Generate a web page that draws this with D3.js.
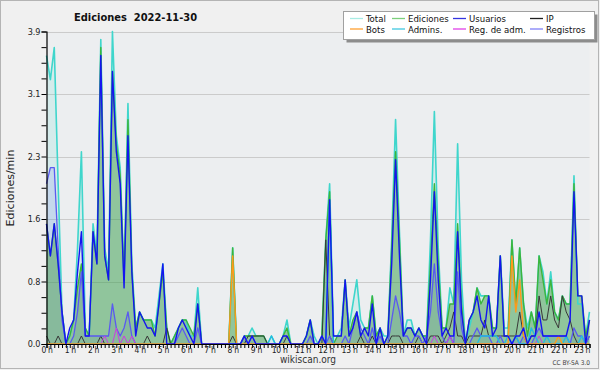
<!DOCTYPE html>
<html>
<head>
<meta charset="utf-8">
<script src="https://cdn.jsdelivr.net/npm/d3@7"></script>
<style>
  body { margin: 0; background: #f0f0f0; }
  svg { display: block; font-family: "DejaVu Sans Condensed", "DejaVu Sans", sans-serif; }
</style>
</head>
<body>
<div id="chart"></div>
<script>
// edits per minute, one value every 10 minutes (0:00 -> 23:20)
let total = [
  3.6, 3.3, 3.7, 2.0, 0.4, 0.0,
  0.1, 0.3, 1.2, 2.4, 0.2, 0.1,
  1.5, 1.1, 3.8, 1.2, 0.9, 3.9,
  2.6, 2.2, 0.8, 3.0, 1.0, 0.2,
  0.4, 0.3, 0.3, 0.3, 0.2, 0.6,
  1.0, 0.2, 0.0, 0.1, 0.2, 0.3,
  0.3, 0.1, 0.1, 0.7, 0.0, 0.0,
  0.0, 0.0, 0.0, 0.0, 0.0, 0.0,
  1.2, 0.0, 0.0, 0.1, 0.1, 0.2,
  0.1, 0.1, 0.1, 0.0, 0.1, 0.0,
  0.0, 0.1, 0.3, 0.0, 0.0, 0.0,
  0.0, 0.1, 0.3, 0.1, 0.0, 0.1,
  1.3, 2.0, 0.1, 0.1, 0.2, 0.8,
  0.2, 0.5, 0.8, 0.3, 0.2, 0.2,
  0.6, 0.1, 0.2, 0.1, 0.1, 1.3,
  2.8, 1.4, 0.1, 0.3, 0.3, 0.1,
  0.2, 0.1, 0.1, 1.3, 2.9, 1.2,
  0.2, 0.2, 0.7, 0.5, 2.5, 0.8,
  0.0, 0.2, 0.4, 0.7, 0.6, 0.6,
  0.6, 0.2, 0.2, 1.1, 0.2, 0.2,
  1.3, 0.5, 1.2, 0.5, 0.2, 0.4,
  0.2, 1.1, 0.9, 0.5, 0.9, 0.4,
  0.3, 0.6, 0.5, 0.5, 2.1, 0.5,
  0.5, 0.1, 0.4
];

let edits = [
  1.5, 1.1, 1.5, 1.0, 0.4, 0.0,
  0.1, 0.3, 0.7, 1.0, 0.2, 0.1,
  1.4, 1.0, 3.7, 1.1, 0.8, 3.4,
  2.5, 2.1, 0.8, 2.8, 0.9, 0.2,
  0.4, 0.3, 0.3, 0.3, 0.1, 0.5,
  0.9, 0.2, 0.0, 0.1, 0.2, 0.3,
  0.3, 0.2, 0.1, 0.5, 0.0, 0.0,
  0.0, 0.0, 0.0, 0.0, 0.0, 0.0,
  1.2, 0.0, 0.0, 0.1, 0.1, 0.1,
  0.1, 0.1, 0.1, 0.0, 0.0, 0.0,
  0.0, 0.1, 0.2, 0.0, 0.0, 0.0,
  0.0, 0.1, 0.3, 0.0, 0.0, 0.1,
  1.3, 1.9, 0.0, 0.1, 0.1, 0.8,
  0.1, 0.3, 0.4, 0.1, 0.2, 0.2,
  0.6, 0.1, 0.2, 0.0, 0.1, 1.2,
  2.4, 1.3, 0.1, 0.2, 0.2, 0.1,
  0.2, 0.1, 0.1, 1.0, 2.0, 1.0,
  0.2, 0.2, 0.5, 0.5, 1.5, 0.5,
  0.0, 0.3, 0.4, 0.7, 0.5, 0.6,
  0.6, 0.2, 0.2, 1.1, 0.1, 0.1,
  1.3, 0.5, 1.2, 0.5, 0.1, 0.4,
  0.2, 1.1, 0.8, 0.5, 0.8, 0.4,
  0.3, 0.6, 0.5, 0.5, 2.0, 0.6,
  0.6, 0.1, 0.3
];

let users = [
  1.5, 1.1, 1.5, 1.0, 0.4, 0.0,
  0.2, 0.3, 0.9, 1.4, 0.1, 0.1,
  1.4, 1.0, 3.6, 1.1, 0.8, 3.4,
  2.4, 2.0, 0.7, 2.6, 0.9, 0.1,
  0.4, 0.3, 0.2, 0.2, 0.1, 0.5,
  1.0, 0.0, 0.0, 0.0, 0.2, 0.3,
  0.2, 0.1, 0.0, 0.5, 0.0, 0.0,
  0.0, 0.0, 0.0, 0.0, 0.0, 0.0,
  0.0, 0.0, 0.0, 0.1, 0.0, 0.1,
  0.0, 0.0, 0.0, 0.0, 0.0, 0.0,
  0.0, 0.1, 0.1, 0.0, 0.0, 0.0,
  0.0, 0.1, 0.3, 0.0, 0.0, 0.1,
  0.0, 1.8, 0.1, 0.1, 0.1, 0.8,
  0.1, 0.2, 0.4, 0.1, 0.2, 0.1,
  0.5, 0.0, 0.2, 0.0, 0.1, 1.0,
  2.3, 1.1, 0.1, 0.2, 0.2, 0.1,
  0.2, 0.1, 0.0, 0.8, 1.9, 0.8,
  0.1, 0.2, 0.1, 0.1, 1.4, 0.4,
  0.0, 0.3, 0.4, 0.6, 0.3, 0.2,
  0.6, 0.1, 0.2, 1.1, 0.1, 0.1,
  0.0, 0.1, 0.1, 0.2, 0.0, 0.1,
  0.1, 0.4, 0.1, 0.1, 0.1, 0.1,
  0.1, 0.1, 0.1, 0.3, 1.9, 0.6,
  0.6, 0.0, 0.3
];

let ip = [
  0.1, 0.0, 0.0, 0.1, 0.0, 0.0,
  0.0, 0.0, 0.0, 0.1, 0.0, 0.0,
  0.0, 0.0, 0.1, 0.0, 0.0, 0.0,
  0.0, 0.0, 0.0, 0.0, 0.0, 0.0,
  0.0, 0.0, 0.1, 0.0, 0.0, 0.0,
  0.0, 0.2, 0.0, 0.0, 0.0, 0.0,
  0.0, 0.0, 0.0, 0.0, 0.0, 0.0,
  0.0, 0.0, 0.0, 0.0, 0.0, 0.0,
  0.1, 0.0, 0.0, 0.0, 0.1, 0.1,
  0.1, 0.1, 0.1, 0.0, 0.0, 0.0,
  0.0, 0.0, 0.1, 0.0, 0.0, 0.0,
  0.0, 0.0, 0.0, 0.0, 0.0, 0.0,
  1.3, 0.1, 0.0, 0.0, 0.0, 0.0,
  0.0, 0.0, 0.0, 0.1, 0.0, 0.0,
  0.1, 0.0, 0.0, 0.0, 0.0, 0.1,
  0.1, 0.1, 0.0, 0.0, 0.0, 0.0,
  0.1, 0.0, 0.0, 0.1, 0.1, 0.1,
  0.0, 0.1, 0.2, 0.4, 0.1, 0.1,
  0.0, 0.1, 0.1, 0.1, 0.1, 0.3,
  0.1, 0.1, 0.1, 0.1, 0.1, 0.1,
  0.1, 0.1, 0.4, 0.1, 0.0, 0.1,
  0.1, 0.6, 0.3, 0.3, 0.6, 0.3,
  0.2, 0.6, 0.4, 0.3, 0.1, 0.0,
  0.0, 0.0, 0.1
];

let bots = [
  0, 0, 0, 0, 0, 0,  0, 0, 0, 0, 0, 0,  0, 0, 0, 0, 0, 0,  0, 0, 0, 0, 0, 0,
  0, 0, 0, 0, 0, 0,  0, 0, 0, 0, 0, 0,  0, 0, 0, 0, 0, 0,  0, 0, 0, 0, 0, 0,
  1.1, 0, 0, 0, 0, 0,  0, 0, 0, 0, 0, 0,  0, 0, 0, 0, 0, 0,  0, 0, 0, 0, 0, 0,
  0, 0, 0, 0, 0, 0,  0, 0, 0, 0, 0, 0,  0, 0, 0, 0, 0, 0,  0, 0, 0, 0, 0, 0,
  0, 0, 0, 0, 0, 0,  0, 0, 0, 0, 0, 0,  0, 0, 0, 0, 0, 0,  0, 0, 0, 0, 0, 0,
  1.1, 0.4, 0.8, 0.1, 0, 0,  0, 0, 0, 0, 0, 0,  0.1, 0, 0, 0, 0, 0,
  0, 0, 0
];

let admins = [
  0, 0, 0, 0, 0, 0,  0, 0, 0, 0, 0, 0,  0, 0, 0, 0, 0, 0,  0, 0, 0, 0, 0, 0,
  0, 0, 0, 0, 0, 0,  0, 0, 0, 0, 0, 0,  0, 0, 0, 0, 0, 0,  0, 0, 0, 0, 0, 0,
  0, 0, 0, 0, 0, 0,  0, 0, 0, 0, 0.1, 0,  0, 0, 0, 0, 0, 0,  0, 0, 0, 0, 0, 0,
  0, 1.8, 0, 0, 0, 0,  0, 0, 0, 0, 0, 0,  0, 0, 0, 0, 0, 0,  0, 0, 0, 0, 0, 0,
  0, 0, 0, 0, 0, 0,  0, 0, 0, 0, 0, 0,  0, 0, 0, 0, 0.1, 0.1,
  0.1, 0.1, 0.1, 0, 0, 0.1,
  0, 0.1, 0, 0, 0, 0.2,  0.1, 0, 0, 0.1, 0, 0,  0, 0, 0.1, 0, 0, 0,
  0.1, 0, 0
];

let regAdm = [
  0, 0, 0, 0, 0, 0,  0, 0, 0, 0, 0, 0,  0, 0, 0, 0.1, 0, 0,  0.2, 0, 0.1, 0, 0.1, 0,
  0, 0, 0, 0, 0, 0,  0, 0, 0, 0, 0, 0,  0, 0, 0, 0, 0, 0,  0, 0, 0, 0, 0, 0,
  0, 0, 0, 0, 0, 0,  0, 0, 0, 0, 0, 0,  0, 0, 0, 0, 0, 0,  0, 0, 0, 0, 0, 0,
  0, 0, 0, 0, 0, 0,  0, 0, 0, 0, 0, 0,  0, 0, 0, 0, 0, 0,  0, 0, 0, 0, 0, 0,
  0, 0, 0, 0, 0.1, 0,  0, 0, 0.1, 0, 0, 0,  0, 0, 0, 0, 0, 0,  0, 0, 0, 0, 0, 0,
  0, 0, 0, 0, 0, 0,  0, 0.1, 0, 0, 0, 0,  0, 0, 0, 0, 0, 0,
  0, 0, 0
];

let registros = [
  2.0, 2.2, 2.2, 1.2, 0.3, 0.0,
  0.0, 0.1, 0.4, 0.9, 0.1, 0.1,
  0.1, 0.1, 0.1, 0.1, 0.1, 0.5,
  0.2, 0.1, 0.2, 0.4, 0.1, 0.0,
  0.0, 0.0, 0.0, 0.0, 0.0, 0.0,
  0.0, 0.0, 0.0, 0.0, 0.1, 0.2,
  0.1, 0.0, 0.0, 0.2, 0.0, 0.0,
  0.0, 0.0, 0.0, 0.0, 0.0, 0.0,
  0.0, 0.0, 0.0, 0.1, 0.0, 0.1,
  0.0, 0.0, 0.0, 0.0, 0.0, 0.0,
  0.0, 0.0, 0.0, 0.0, 0.0, 0.0,
  0.0, 0.0, 0.1, 0.0, 0.0, 0.1,
  0.0, 0.1, 0.0, 0.0, 0.0, 0.1,
  0.0, 0.2, 0.4, 0.2, 0.1, 0.0,
  0.2, 0.0, 0.1, 0.0, 0.0, 0.3,
  0.6, 0.4, 0.1, 0.1, 0.0, 0.1,
  0.1, 0.0, 0.1, 0.4, 1.0, 0.4,
  0.1, 0.0, 0.1, 0.0, 0.9, 0.2,
  0.0, 0.0, 0.1, 0.2, 0.1, 0.1,
  0.1, 0.0, 0.0, 0.1, 0.0, 0.0,
  0.0, 0.1, 0.0, 0.1, 0.0, 0.0,
  0.1, 0.2, 0.1, 0.1, 0.1, 0.1,
  0.1, 0.1, 0.1, 0.0, 0.2, 0.1,
  0.1, 0.0, 0.1
];

let yTicks = [0, 0.78, 1.56, 2.34, 3.12, 3.9];
let hourLabels = ["0 h", "1 h", "2 h", "3 h", "4 h", "5 h", "6 h", "7 h", "8 h", "9 h", "10 h", "11 h",
  "12 h", "13 h", "14 h", "15 h", "16 h", "17 h", "18 h", "19 h", "20 h", "21 h", "22 h", "23 h"];
let legendNames = ["Total", "Ediciones", "Usuarios", "IP", "Bots", "Admins.", "Reg. de adm.", "Registros"];
let legendColors = ["#a8ece4", "#7ccf7c", "#3434e0", "#202020", "#ffa030", "#40c8e0", "#e040e8", "#8080f8"];

let width = 600, height = 370;
let plot = { left: 46.5, right: 589.5, top: 31.5, bottom: 344 };

let svg = d3.select("#chart").append("svg")
  .attr("width", width)
  .attr("height", height);

// frame
svg.append("rect")
  .attr("x", 0.5).attr("y", 0.5)
  .attr("width", 598).attr("height", 368)
  .attr("fill", "#f0f0f0")
  .attr("stroke", "#b4b4b4");

svg.append("rect")
  .attr("x", plot.left).attr("y", plot.top)
  .attr("width", plot.right - plot.left).attr("height", plot.bottom - plot.top)
  .attr("fill", "#eceef0");

let x = d3.scaleLinear().domain([0, total.length - 1]).range([plot.left, plot.right]);
let y = d3.scaleLinear().domain([0, 3.9]).range([plot.bottom, plot.top]);

// grid
svg.append("g")
  .selectAll("line")
  .data(yTicks.slice(1))
  .enter()
  .append("line")
  .attr("x1", plot.left).attr("x2", plot.right)
  .attr("y1", d => Math.round(y(d)) + 0.5).attr("y2", d => Math.round(y(d)) + 0.5)
  .attr("stroke", "#cbcbcb");

// filled areas
function area(values) {
  return d3.area()
    .x((d, i) => x(i))
    .y0(y(0))
    .y1(d => y(d))(values);
}

svg.append("path").attr("d", area(total)).attr("fill", "rgba(64,214,204,0.13)");
svg.append("path").attr("d", area(registros)).attr("fill", "rgba(80,80,250,0.12)");
svg.append("path").attr("d", area(edits)).attr("fill", "rgba(60,150,60,0.45)");

// lines
let line = d3.line().x((d, i) => x(i)).y(d => y(d));

let lineSeries = [
  { values: total, color: "#3fd6cc", width: 1.6 },
  { values: edits, color: "#3cb53c", width: 1.4 },
  { values: ip, color: "#383838", width: 1 },
  { values: registros, color: "#5a5af0", width: 1.3 },
  { values: regAdm, color: "#cc3ee0", width: 1 },
  { values: admins, color: "#22bde0", width: 1.4 },
  { values: bots, color: "#ff9a1a", width: 1.4 },
  { values: users, color: "#1414f0", width: 1.4 }
];

svg.append("g")
  .selectAll("path")
  .data(lineSeries)
  .enter()
  .append("path")
  .attr("d", d => line(d.values))
  .attr("fill", "none")
  .attr("stroke", d => d.color)
  .attr("stroke-width", d => d.width)
  .attr("stroke-linejoin", "round");

// axes
let xAxis = svg.append("g")
  .attr("transform", "translate(0," + plot.bottom + ")")
  .call(d3.axisBottom(x)
    .tickValues(d3.range(0, total.length))
    .tickSize(4)
    .tickPadding(-1)
    .tickFormat(i => i % 6 === 0 ? hourLabels[i / 6] : ""));

let minorY = d3.range(0, 21).map(k => k * 0.195);
let yAxis = svg.append("g")
  .attr("transform", "translate(" + plot.left + ",0)")
  .call(d3.axisLeft(y)
    .tickValues(minorY)
    .tickSize(5)
    .tickPadding(1)
    .tickFormat((d, k) => k % 4 === 0 ? d3.format(".1f")(d) : ""));

[xAxis, yAxis].forEach(g => {
  g.select(".domain").attr("stroke", "#000").attr("stroke-width", 1.2);
  g.selectAll(".tick line").attr("stroke", "#000");
  g.selectAll("text")
    .attr("fill", "#222")
    .style("font-size", "9px")
    .style("font-family", "'DejaVu Sans Condensed', 'DejaVu Sans', sans-serif");
});

xAxis.selectAll("text")
  .style("font-size", "8.5px")
  .style("letter-spacing", "-0.3px");

// titles
svg.append("text")
  .attr("x", 74).attr("y", 21)
  .style("white-space", "pre")
  .style("font-size", "11px")
  .style("font-weight", "bold")
  .attr("fill", "#111")
  .text("Ediciones  2022-11-30");

svg.append("text")
  .attr("transform", "translate(14,188) rotate(-90)")
  .attr("text-anchor", "middle")
  .style("font-family", "'DejaVu Sans', sans-serif")
  .style("font-size", "11px")
  .attr("fill", "#222")
  .text("Ediciones/min");

svg.append("text")
  .attr("x", 308).attr("y", 363)
  .attr("text-anchor", "middle")
  .style("font-size", "10px")
  .attr("fill", "#333")
  .text("wikiscan.org");

svg.append("text")
  .attr("x", 590).attr("y", 365)
  .attr("text-anchor", "end")
  .style("font-size", "6.5px")
  .attr("fill", "#444")
  .text("CC BY-SA 3.0");

// legend
let legend = svg.append("g");
legend.append("rect")
  .attr("x", 346.5).attr("y", 14.5).attr("width", 251).attr("height", 28)
  .attr("fill", "#8c8c8c");
legend.append("rect")
  .attr("x", 343.5).attr("y", 11.5).attr("width", 251).attr("height", 28)
  .attr("fill", "#fff").attr("stroke", "#a0a0a0");

let colX = [366, 408, 469, 546];
let rowY = [22, 32.5];

let items = legend.selectAll("g.item")
  .data(legendNames)
  .enter()
  .append("g")
  .attr("class", "item")
  .attr("transform", (d, k) => "translate(" + colX[k % 4] + "," + rowY[Math.floor(k / 4)] + ")");

items.append("line")
  .attr("x1", -16).attr("x2", -3)
  .attr("y1", -3.5).attr("y2", -3.5)
  .attr("stroke", (d, k) => legendColors[k])
  .attr("stroke-width", 1.3);

items.append("text")
  .style("font-size", "9.5px")
  .attr("fill", "#111")
  .text(d => d);
</script>
</body>
</html>
